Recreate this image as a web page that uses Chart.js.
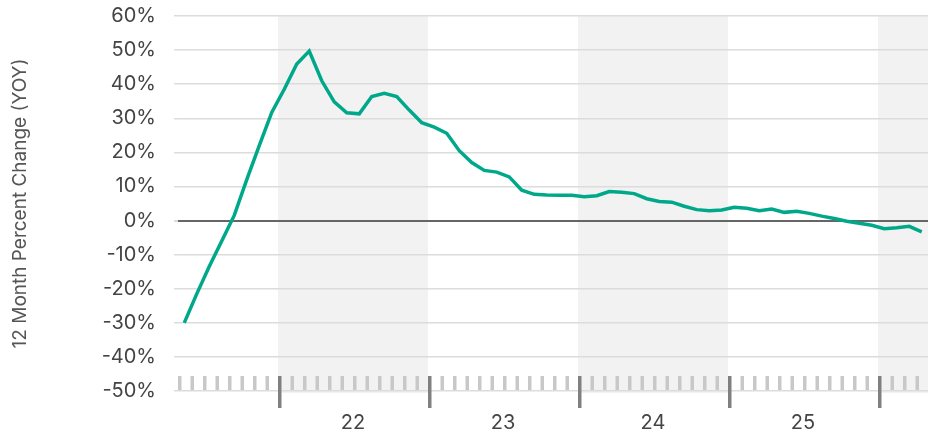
<!DOCTYPE html>
<html>
<head>
<meta charset="utf-8">
<script src="https://cdn.jsdelivr.net/npm/chart.js@4"></script>
<style>
  html, body { margin: 0; padding: 0; background: #fff; }
  #wrap { width: 928px; height: 430px; position: relative; }
</style>
</head>
<body>
<div id="wrap"><canvas id="yoy-chart"></canvas></div>
<script>
// monthly observations, May 2021 - Apr 2026
const months = [
  '2021-05', '2021-06', '2021-07', '2021-08', '2021-09', '2021-10', '2021-11', '2021-12',
  '2022-01', '2022-02', '2022-03', '2022-04', '2022-05', '2022-06', '2022-07', '2022-08', '2022-09', '2022-10', '2022-11', '2022-12',
  '2023-01', '2023-02', '2023-03', '2023-04', '2023-05', '2023-06', '2023-07', '2023-08', '2023-09', '2023-10', '2023-11', '2023-12',
  '2024-01', '2024-02', '2024-03', '2024-04', '2024-05', '2024-06', '2024-07', '2024-08', '2024-09', '2024-10', '2024-11', '2024-12',
  '2025-01', '2025-02', '2025-03', '2025-04', '2025-05', '2025-06', '2025-07', '2025-08', '2025-09', '2025-10', '2025-11', '2025-12',
  '2026-01', '2026-02', '2026-03', '2026-04'
];
const yoyChange = [
  -30, -21.5, -13.5, -6, 1.5, 12, 22, 31.7, 38.5, 45.9,
  49.7, 41, 34.8, 31.6, 31.3, 36.4, 37.3, 36.4, 32.4, 28.7,
  27.4, 25.6, 20.5, 17, 14.7, 14.2, 12.8, 8.9, 7.7, 7.5,
  7.4, 7.4, 7.0, 7.3, 8.5, 8.3, 7.9, 6.4, 5.6, 5.4,
  4.2, 3.2, 2.9, 3.1, 3.9, 3.6, 2.9, 3.4, 2.4, 2.7,
  2.1, 1.3, 0.6, -0.2, -0.8, -1.4, -2.4, -2.1, -1.7, -3.3
];
const yearLabels = ['22', '23', '24', '25'];
const shadedYears = ['2022', '2024', '2026'];

const FONT = 'Inter, "Noto Sans", sans-serif';

// month index where a year starts
function yearStart(y) {
  return months.indexOf(y + '-01');
}

const bandsAndTicks = {
  id: 'bandsAndTicks',
  beforeDraw(chart) {
    const { ctx, chartArea, scales } = chart;
    const x = scales.x;
    ctx.save();
    ctx.fillStyle = '#f2f2f2';
    shadedYears.forEach(y => {
      const s = yearStart(y);
      if (s < 0) return;
      const e = Math.min(s + 12, months.length);
      const x0 = x.getPixelForValue(s);
      const x1 = x.getPixelForValue(e);
      ctx.fillRect(x0, chartArea.top, x1 - x0, chartArea.bottom - chartArea.top + 2);
    });
    ctx.restore();
  },
  beforeDatasetsDraw(chart) {
    const { ctx, chartArea, scales } = chart;
    const x = scales.x;
    ctx.save();
    for (let m = 0; m < months.length; m++) {
      const px = x.getPixelForValue(m);
      if (months[m].endsWith('-01')) {
        ctx.fillStyle = '#808080';
        ctx.fillRect(px, chartArea.bottom - 15, 3.5, 32);
      } else {
        ctx.fillStyle = '#c8c8c8';
        ctx.fillRect(px, chartArea.bottom - 15, 3.5, 14);
      }
    }
    ctx.restore();
  }
};

new Chart(document.getElementById('yoy-chart'), {
  type: 'line',
  data: {
    datasets: [{
      label: '12 Month Percent Change (YOY)',
      data: months.map((m, i) => ({ x: i + 0.5, y: yoyChange[i] })),
      borderColor: '#00a88a',
      borderWidth: 3.5,
      pointRadius: 0,
      tension: 0,
      fill: false
    }]
  },
  options: {
    responsive: true,
    maintainAspectRatio: false,
    animation: false,
    layout: { padding: { top: 16, right: 0, left: 0, bottom: 0 } },
    plugins: {
      legend: { display: false },
      tooltip: { enabled: false }
    },
    scales: {
      x: {
        type: 'linear',
        min: 0,
        max: months.length,
        afterBuildTicks(scale) {
          scale.ticks = yearLabels.map(l => ({ value: yearStart('20' + l) + 6 }));
        },
        afterFit(scale) {
          scale.height = 39;
          scale.paddingLeft = 0;
          scale.paddingRight = 0;
        },
        grid: { display: false },
        border: { display: false },
        ticks: {
          autoSkip: false,
          maxRotation: 0,
          padding: 12,
          color: '#444',
          font: { family: FONT, size: 20 },
          callback: v => months[v] ? months[v].slice(2, 4) : ''
        }
      },
      y: {
        min: -50,
        max: 60,
        afterFit(scale) {
          scale.width = 178;
          scale.paddingTop = 0;
          scale.paddingBottom = 0;
        },
        ticks: {
          stepSize: 10,
          padding: 18,
          color: '#444',
          font: { family: FONT, size: 20 },
          callback: v => v + '%'
        },
        grid: {
          color: c => c.tick && c.tick.value === 0 ? '#666' : '#dcdcdc',
          lineWidth: c => c.tick && c.tick.value === 0 ? 2 : 1.5,
          tickColor: '#dcdcdc',
          tickLength: 4
        },
        border: { display: false },
        title: {
          display: true,
          text: '12 Month Percent Change (YOY)',
          color: '#555',
          font: { family: FONT, size: 19 },
          padding: { top: 9, bottom: 0 }
        }
      }
    }
  },
  plugins: [bandsAndTicks]
});
</script>
</body>
</html>
